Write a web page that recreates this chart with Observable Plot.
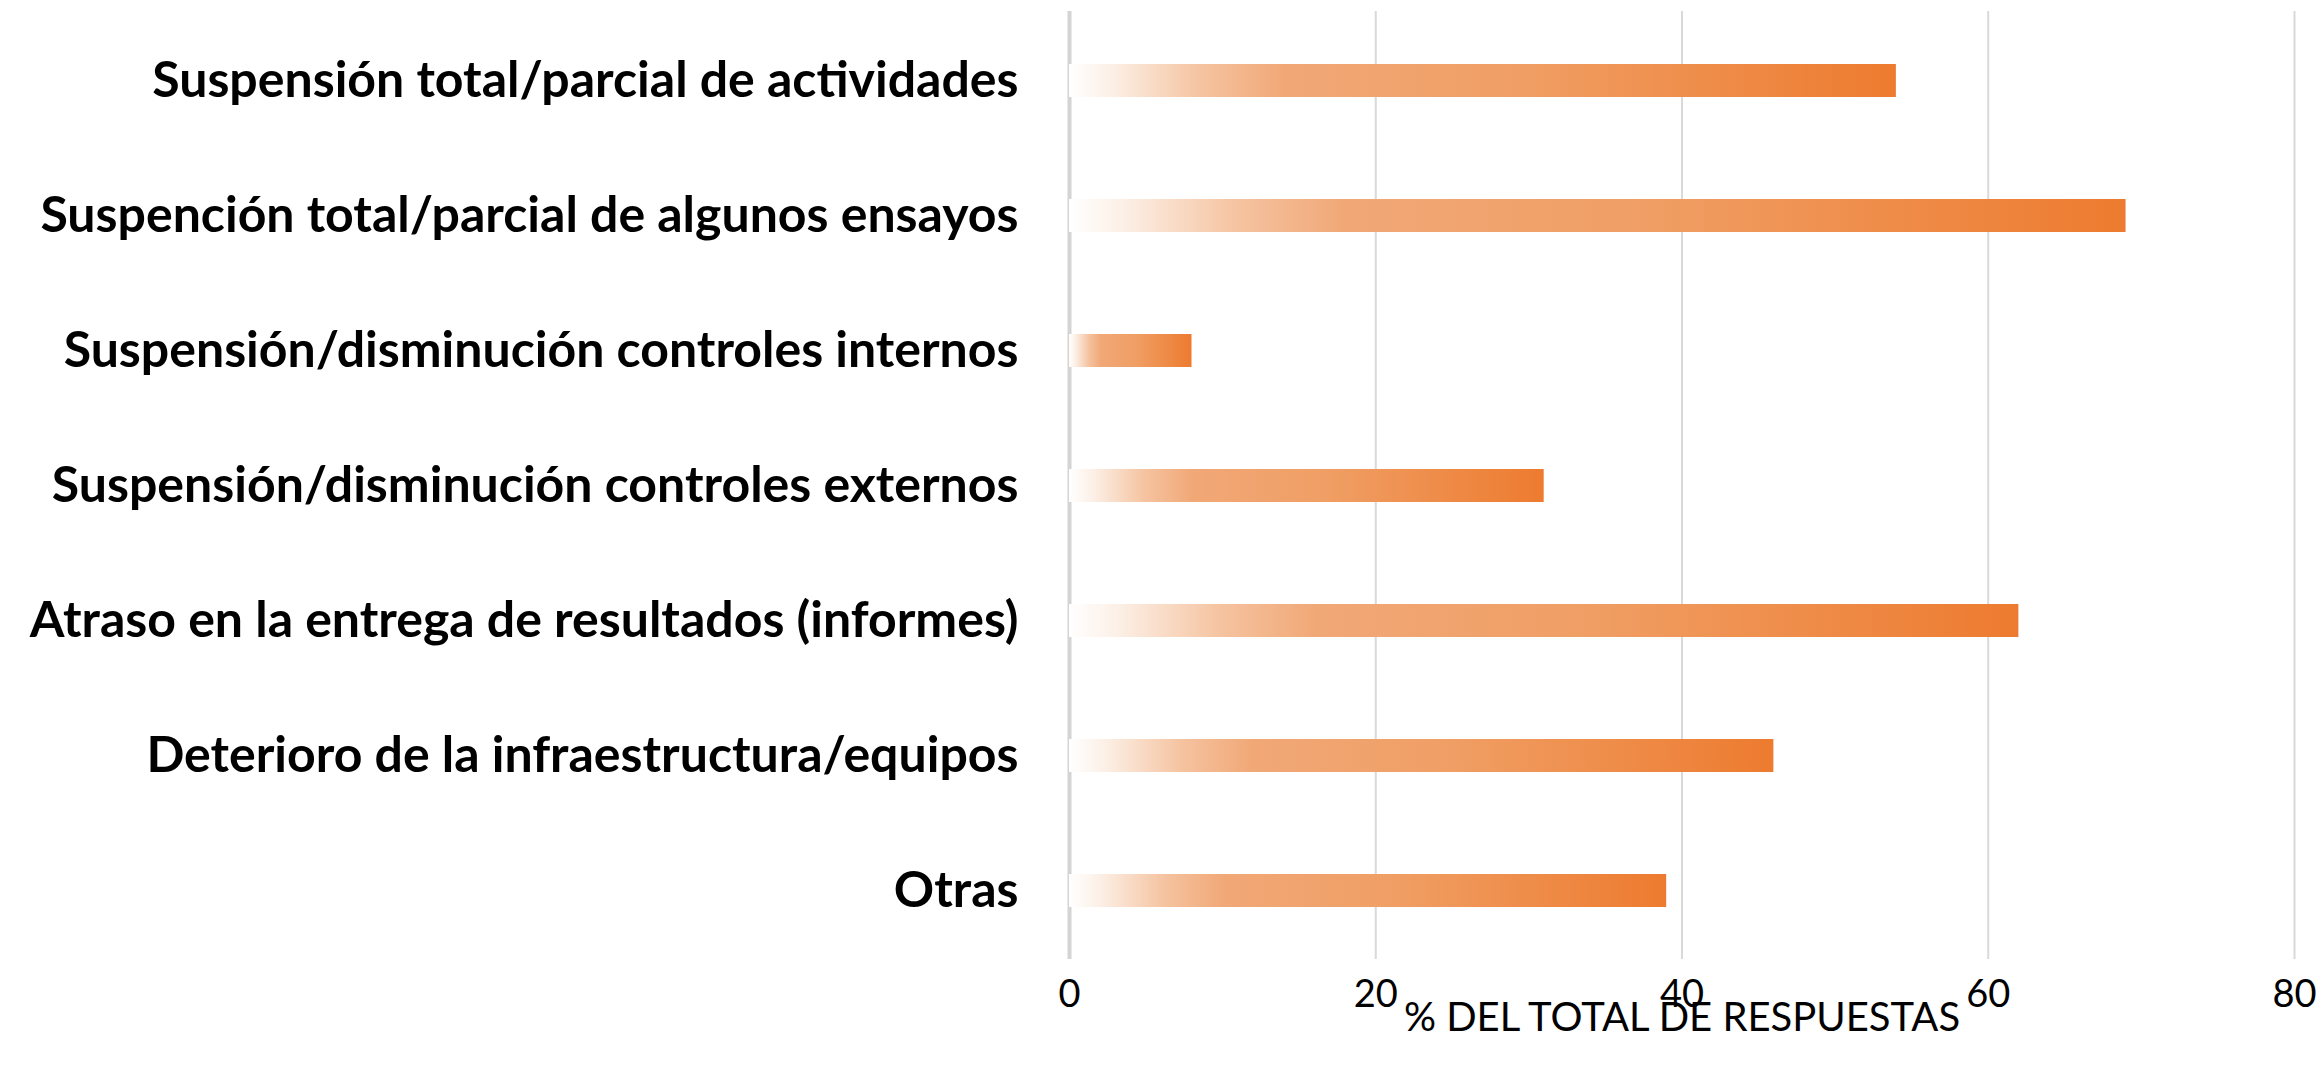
<!DOCTYPE html>
<html>
<head>
<meta charset="utf-8">
<script src="https://cdn.jsdelivr.net/npm/d3@7"></script>
<script src="https://cdn.jsdelivr.net/npm/@observablehq/plot@0.6"></script>
<style>
  html, body { margin: 0; padding: 0; background: #ffffff; }
  #chart svg { display: block; }
</style>
</head>
<body>
<div id="chart"></div>
<script>
const categories = [
  "Suspensión total/parcial de actividades",
  "Suspención total/parcial de algunos ensayos",
  "Suspensión/disminución controles internos",
  "Suspensión/disminución controles externos",
  "Atraso en la entrega de resultados (informes)",
  "Deterioro de la infraestructura/equipos",
  "Otras"
];
const values = [54, 69, 8, 31, 62, 46, 39];
const xTicks = [0, 20, 40, 60, 80];
const xLabel = "% DEL TOTAL DE RESPUESTAS";

const data = categories.map((c, i) => ({category: c, value: values[i]}));

const chart = Plot.plot({
  width: 2321,
  height: 1066,
  marginLeft: 1069,
  marginRight: 27,
  marginTop: 11,
  marginBottom: 107,
  style: {background: "#ffffff"},
  x: {domain: [0, 80]},
  y: {domain: categories, padding: 0},
  marks: [
    Plot.gridX(xTicks, {stroke: "#d9d9d9", strokeOpacity: 1, strokeWidth: 2}),
    Plot.ruleX([0], {stroke: "#d4d4d4", strokeWidth: 4}),
    Plot.barX(data, {x: "value", y: "category", fill: "url(#barGrad)", insetTop: 51, insetBottom: 51}),
    Plot.axisY({tickSize: 0, tickPadding: 51, fontSize: 50, fontWeight: "bold", fontFamily: "Lato", fill: "#000", label: null}),
    Plot.axisX({ticks: xTicks, tickSize: 0, tickPadding: 21, fontSize: 38, fontFamily: "Lato", fill: "#000", label: null}),
    Plot.text([xLabel], {frameAnchor: "bottom", dy: 71, fontSize: 40, fontFamily: "Lato", fill: "#000"})
  ]
});

const ns = "http://www.w3.org/2000/svg";
const defs = document.createElementNS(ns, "defs");
const grad = document.createElementNS(ns, "linearGradient");
grad.setAttribute("id", "barGrad");
grad.setAttribute("x1", "0"); grad.setAttribute("x2", "1");
grad.setAttribute("y1", "0"); grad.setAttribute("y2", "0");
[[0, "#ffffff"], [0.05, "#fcf0e7"], [0.16, "#f5c3a0"], [0.26, "#f1a877"], [0.55, "#f09e64"], [1, "#ed7b2f"]].forEach(([o, c]) => {
  const s = document.createElementNS(ns, "stop");
  s.setAttribute("offset", o);
  s.setAttribute("stop-color", c);
  grad.appendChild(s);
});
defs.appendChild(grad);
chart.insertBefore(defs, chart.firstChild);
document.getElementById("chart").appendChild(chart);
</script>
</body>
</html>
